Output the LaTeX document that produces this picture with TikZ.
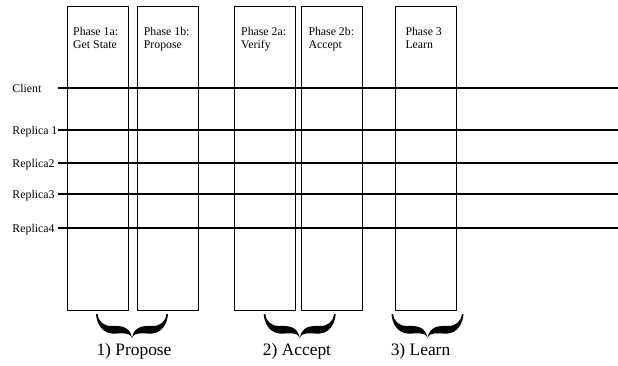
\documentclass[tikz,border=0pt]{standalone}
\usepackage{fontspec}
\setmainfont{Liberation Serif}
\begin{document}
\begin{tikzpicture}[x=1pt,y=-1pt,
  phasebox/.style={draw=black, line width=0.9pt, rectangle, inner sep=0pt,
    minimum width=61pt, minimum height=304.3pt, anchor=north west},
  phasetext/.style={anchor=base west, align=left, inner sep=0pt,
    font=\fontsize{11.8}{13.5}\selectfont},
  rowlabel/.style={anchor=base west, inner sep=0pt, font=\fontsize{11.8}{14}\selectfont},
  timeline/.style={line width=1.6pt, black},
  steplabel/.style={anchor=base, inner sep=0pt, font=\fontsize{17.4}{20}\selectfont},
  curlybrace/.pic={
    \fill[black] (-36,0) .. controls (-35.5,9) and (-30,19) .. (-20,19.5)
      .. controls (-10,20) and (-3,17) .. (0,24)
      .. controls (-2,13) and (-10,11.5) .. (-20,12)
      .. controls (-28,12.5) and (-34,7) .. (-34.5,0) -- cycle;
    \fill[black] (36,0) .. controls (35.5,9) and (30,19) .. (20,19.5)
      .. controls (10,20) and (3,17) .. (0,24)
      .. controls (2,13) and (10,11.5) .. (20,12)
      .. controls (28,12.5) and (34,7) .. (34.5,0) -- cycle;
  }]
\useasboundingbox (0,0) rectangle (618,365);

% phase columns
\node[phasebox] (p1a) at (66.7,6) {};
\node[phasebox] (p1b) at (137,6) {};
\node[phasebox] (p2a) at (233.5,6) {};
\node[phasebox] (p2b) at (300.7,6) {};
\node[phasebox] (p3)  at (394.7,6) {};

% phase titles (anchored on the baseline of their last line)
\node[phasetext] (t1a) at (73,48.5) {Phase 1a:\\Get State};
\node[phasetext] (t1b) at (143.7,48.5) {Phase 1b:\\Propose};
\node[phasetext] (t2a) at (241,48.5) {Phase 2a:\\Verify};
\node[phasetext] (t2b) at (308.3,48.5) {Phase 2b:\\Accept};
\node[phasetext] (t3)  at (405.3,48.5) {Phase 3\\Learn};

% participants and their timelines
\node[rowlabel] (client) at (12.3,92) {Client};
\node[rowlabel] (r1) at (12.3,134) {Replica 1};
\node[rowlabel] (r2) at (12.3,167) {Replica2};
\node[rowlabel] (r3) at (12.3,198) {Replica3};
\node[rowlabel] (r4) at (12.3,232) {Replica4};

\foreach \n/\y in {c/88, a/130, b/163, d/194, e/228}{
  \coordinate (\n s) at (58,\y);
  \coordinate (\n e) at (618,\y);
  \draw[timeline] (\n s) -- (\n e);
}

% braces grouping the phases
\pic at (132,314) {curlybrace};
\pic at (299.7,314) {curlybrace};
\pic at (427.5,314) {curlybrace};

\node[steplabel] (s1) at (134,355.7) {1) Propose};
\node[steplabel] (s2) at (297,355.7) {2) Accept};
\node[steplabel] (s3) at (420.5,355.7) {3) Learn};
\end{tikzpicture}
\end{document}
